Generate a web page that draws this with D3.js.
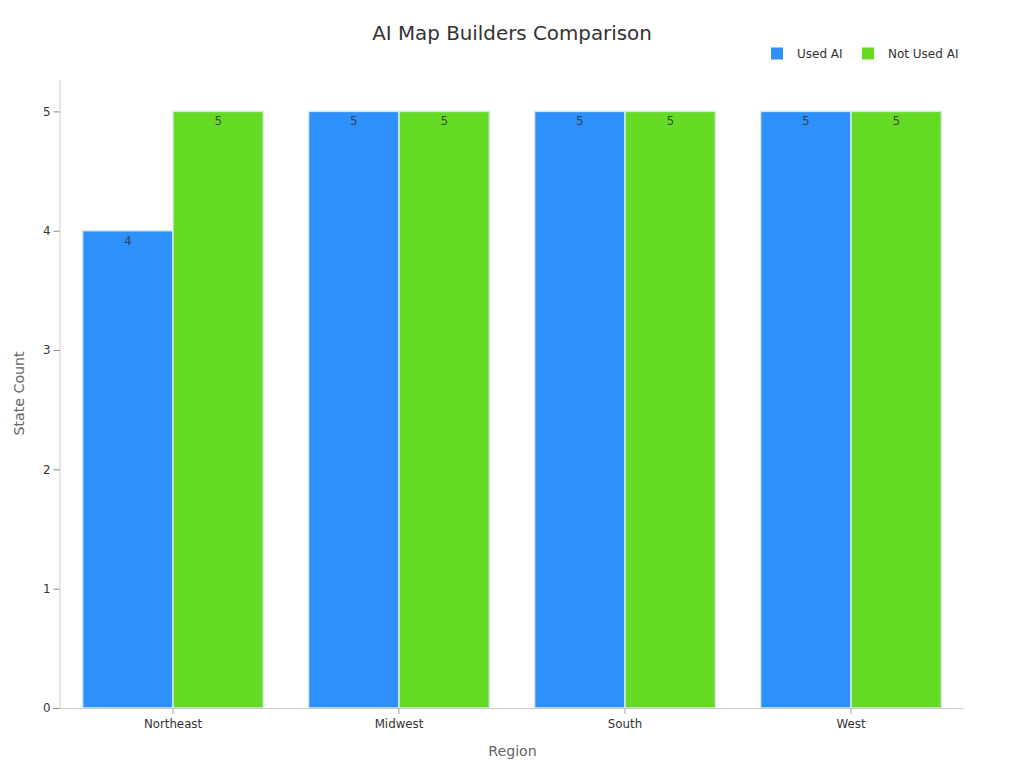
<!DOCTYPE html>
<html lang="en">
<head>
<meta charset="utf-8">
<title>AI Map Builders Comparison</title>
<script src="https://cdn.jsdelivr.net/npm/d3@7"></script>
<style>
html, body { margin: 0; padding: 0; background: #fff; }
svg { display: block; font-family: "DejaVu Sans", sans-serif; }
</style>
</head>
<body>
<script>
const regions = ["Northeast", "Midwest", "South", "West"];
const usedAI = [4, 5, 5, 5];
const notUsedAI = [5, 5, 5, 5];
const seriesNames = ["Used AI", "Not Used AI"];
const seriesColors = ["#2e90fa", "#66db26"];
const yTicks = [0, 1, 2, 3, 4, 5];

const w = 1024, h = 768;
const plotLeft = 59.5, plotRight = 963.5, plotTop = 80, plotBottom = 708;

const svg = d3.select("body").append("svg").attr("width", w).attr("height", h);

const x = d3.scaleBand().domain(regions).range([plotLeft + 0.5, plotRight + 0.5]).paddingInner(0.2).paddingOuter(0.1);
const x1 = d3.scaleBand().domain(seriesNames).range([0, x.bandwidth()]);
const y = d3.scaleLinear().domain([0, 5.263]).range([plotBottom, plotTop]);

// bars
[usedAI, notUsedAI].forEach((vals, s) => {
	const g = svg.append("g");
	g.selectAll("rect")
		.data(vals)
		.join("rect")
		.attr("x", (d, i) => x(regions[i]) + x1(seriesNames[s]))
		.attr("y", d => y(d))
		.attr("width", x1.bandwidth())
		.attr("height", d => y(0) - y(d))
		.attr("fill", seriesColors[s])
		.attr("stroke", "#d4ece4")
		.attr("stroke-width", 1.5);
	g.selectAll("text")
		.data(vals)
		.join("text")
		.attr("x", (d, i) => x(regions[i]) + x1(seriesNames[s]) + x1.bandwidth() / 2)
		.attr("y", d => y(d) + 14)
		.attr("text-anchor", "middle")
		.attr("font-size", 12)
		.attr("fill", "#333")
		.attr("fill-opacity", 0.85)
		.text(d => d);
});

// axes
const xAxis = svg.append("g")
	.attr("transform", `translate(0,${plotBottom})`)
	.call(d3.axisBottom(x).tickSize(6).tickPadding(6));
const yAxis = svg.append("g")
	.attr("transform", `translate(${plotLeft},0)`)
	.call(d3.axisLeft(y).tickValues(yTicks).tickSize(6).tickPadding(3).tickFormat(d3.format("d")));

xAxis.select(".domain").attr("stroke", "#ccc").attr("d", `M${plotLeft},0.5H${plotRight}`);
yAxis.select(".domain").attr("stroke", "#ccc").attr("d", `M0.5,${plotTop}V${plotBottom}`);
xAxis.selectAll(".tick line").attr("stroke", "#aaa");
yAxis.selectAll(".tick line").attr("stroke", "#888");
[xAxis, yAxis].forEach(a => a.selectAll(".tick text")
	.attr("font-family", "DejaVu Sans")
	.attr("font-size", 11.8)
	.attr("fill", "#333"));

// titles
svg.append("text")
	.attr("x", 512).attr("y", 40)
	.attr("text-anchor", "middle")
	.attr("font-size", 19.85)
	.attr("fill", "#333")
	.text("AI Map Builders Comparison");

svg.append("text")
	.attr("x", 512.5).attr("y", 756)
	.attr("text-anchor", "middle")
	.attr("font-size", 14.2)
	.attr("fill", "#666")
	.text("Region");

svg.append("text")
	.attr("transform", "translate(24,393.5) rotate(-90)")
	.attr("text-anchor", "middle")
	.attr("font-size", 14.2)
	.attr("fill", "#666")
	.text("State Count");

// legend
const legendX = [771, 862];
seriesNames.forEach((name, s) => {
	svg.append("rect")
		.attr("x", legendX[s]).attr("y", 47.5)
		.attr("width", 12).attr("height", 12)
		.attr("fill", seriesColors[s]);
	svg.append("text")
		.attr("x", legendX[s] + 26).attr("y", 58)
		.attr("font-size", 12)
		.attr("fill", "#333")
		.text(name);
});
</script>
</body>
</html>
